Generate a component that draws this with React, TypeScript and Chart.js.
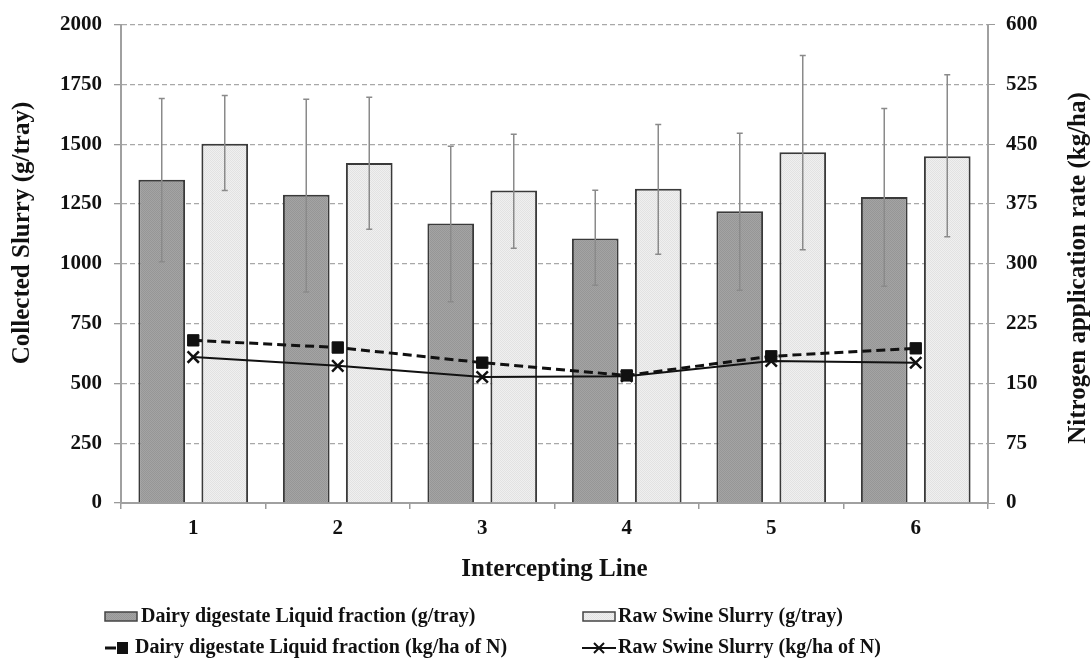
import { useEffect, useRef } from 'react';
import { Chart, registerables } from 'chart.js';

Chart.register(...registerables);

const categories = ['1', '2', '3', '4', '5', '6'];
const dairyTray = [1351, 1289, 1169, 1106, 1220, 1279];
const dairyTrayHigh = [1691, 1688, 1491, 1307, 1546, 1649];
const dairyTrayLow = [1009, 882, 841, 910, 889, 906];
const swineTray = [1502, 1421, 1306, 1314, 1466, 1450];
const swineTrayHigh = [1704, 1696, 1542, 1582, 1871, 1790];
const swineTrayLow = [1306, 1144, 1065, 1040, 1059, 1113];
const dairyN = [204, 195, 176, 160, 184, 194];
const swineN = [183, 172, 158, 159, 178, 176];

const leftTitle = 'Collected Slurry (g/tray)';
const rightTitle = 'Nitrogen application rate (kg/ha)';
const xTitle = 'Intercepting Line';
const legendLabels = [
  'Dairy digestate Liquid fraction (g/tray)',
  'Raw Swine Slurry (g/tray)',
  'Dairy digestate Liquid fraction (kg/ha of N)',
  'Raw Swine Slurry (kg/ha of N)',
];

const SERIF = "'Liberation Serif', 'Times New Roman', serif";

function makePattern(base: string, dot: string) {
  const c = document.createElement('canvas');
  c.width = 2;
  c.height = 2;
  const g = c.getContext('2d')!;
  g.fillStyle = base;
  g.fillRect(0, 0, 2, 2);
  g.fillStyle = dot;
  g.fillRect(0, 0, 1, 1);
  g.fillRect(1, 1, 1, 1);
  return g.createPattern(c, 'repeat')!;
}

export default function App() {
  const ref = useRef<HTMLCanvasElement>(null);

  useEffect(() => {
    const canvas = ref.current!;
    const darkFill = makePattern('#a4a4a4', '#969696');
    const lightFill = makePattern('#f0f0f0', '#e2e2e2');
    const errs = [
      [dairyTrayLow, dairyTrayHigh],
      [swineTrayLow, swineTrayHigh],
    ];

    const errorBars = {
      id: 'errorBars',
      afterDatasetDraw(chart: any, args: any) {
        const e = errs[args.index];
        if (!e) return;
        const ctx = chart.ctx;
        const y = chart.scales.y;
        const meta = chart.getDatasetMeta(args.index);
        ctx.save();
        ctx.strokeStyle = '#8a8a8a';
        ctx.lineWidth = 1.5;
        meta.data.forEach((bar: any, i: number) => {
          const yl = y.getPixelForValue(e[0][i]);
          const yh = y.getPixelForValue(e[1][i]);
          ctx.beginPath();
          ctx.moveTo(bar.x, yl);
          ctx.lineTo(bar.x, yh);
          ctx.moveTo(bar.x - 3, yl);
          ctx.lineTo(bar.x + 3, yl);
          ctx.moveTo(bar.x - 3, yh);
          ctx.lineTo(bar.x + 3, yh);
          ctx.stroke();
        });
        ctx.restore();
      },
    };

    const extras = {
      id: 'extras',
      afterDraw(chart: any) {
        const ctx = chart.ctx;
        ctx.save();
        ctx.fillStyle = '#111';
        ctx.font = `bold 25px ${SERIF}`;
        ctx.textAlign = 'center';
        ctx.textBaseline = 'middle';
        // left title
        ctx.save();
        ctx.translate(23, 233);
        ctx.rotate(-Math.PI / 2);
        ctx.fillText(leftTitle, 0, 0);
        ctx.restore();
        // right title
        ctx.save();
        ctx.translate(1079, 268);
        ctx.rotate(-Math.PI / 2);
        ctx.fillText(rightTitle, 0, 0);
        ctx.restore();

        // legend
        ctx.font = `bold 20px ${SERIF}`;
        ctx.textAlign = 'left';
        ctx.textBaseline = 'middle';
        const r1 = 617;
        const r2 = 648;
        // item 1
        ctx.fillStyle = darkFill;
        ctx.fillRect(105, r1 - 5, 32, 9);
        ctx.strokeStyle = '#444';
        ctx.lineWidth = 1.5;
        ctx.strokeRect(105, r1 - 5, 32, 9);
        ctx.fillStyle = '#111';
        ctx.fillText(legendLabels[0], 141, r1);
        // item 2
        ctx.fillStyle = lightFill;
        ctx.fillRect(583, r1 - 5, 32, 9);
        ctx.strokeRect(583, r1 - 5, 32, 9);
        ctx.fillStyle = '#111';
        ctx.fillText(legendLabels[1], 618, r1);
        // item 3
        ctx.strokeStyle = '#111';
        ctx.lineWidth = 3;
        ctx.beginPath();
        ctx.moveTo(105, r2);
        ctx.lineTo(116, r2);
        ctx.stroke();
        ctx.fillRect(117, r2 - 6, 11, 12);
        ctx.fillText(legendLabels[2], 135, r2);
        // item 4
        ctx.lineWidth = 2;
        ctx.beginPath();
        ctx.moveTo(582, r2);
        ctx.lineTo(616, r2);
        ctx.moveTo(594, r2 - 5);
        ctx.lineTo(604, r2 + 5);
        ctx.moveTo(594, r2 + 5);
        ctx.lineTo(604, r2 - 5);
        ctx.stroke();
        ctx.fillText(legendLabels[3], 618, r2);
        ctx.restore();
      },
    };

    const tickFont = { family: SERIF, weight: 'bold' as const, size: 21 };
    const plain = (v: any) => String(v);

    const chart = new Chart(canvas, {
      type: 'bar',
      data: {
        labels: categories,
        datasets: [
          {
            type: 'bar',
            label: legendLabels[0],
            data: dairyTray,
            backgroundColor: darkFill as any,
            borderColor: '#3a3a3a',
            borderWidth: 2,
            yAxisID: 'y',
            order: 2,
            categoryPercentage: 0.872,
            barPercentage: 0.741,
          },
          {
            type: 'bar',
            label: legendLabels[1],
            data: swineTray,
            backgroundColor: lightFill as any,
            borderColor: '#3a3a3a',
            borderWidth: 2,
            yAxisID: 'y',
            order: 2,
            categoryPercentage: 0.872,
            barPercentage: 0.741,
          },
          {
            type: 'line',
            label: legendLabels[2],
            data: dairyN,
            yAxisID: 'y1',
            borderColor: '#111',
            borderWidth: 3,
            borderDash: [9, 5],
            pointStyle: 'rect',
            pointRadius: 8,
            pointBackgroundColor: '#111',
            pointBorderColor: '#111',
            pointBorderWidth: 1,
            order: 1,
          },
          {
            type: 'line',
            label: legendLabels[3],
            data: swineN,
            yAxisID: 'y1',
            borderColor: '#111',
            borderWidth: 2,
            pointStyle: 'crossRot',
            pointRadius: 8,
            pointBorderColor: '#111',
            pointBorderWidth: 2.5,
            order: 0,
          },
        ],
      },
      options: {
        responsive: false,
        animation: false,
        layout: { padding: { top: 24, left: 0, right: 0, bottom: 79 } },
        plugins: {
          legend: { display: false },
          tooltip: { enabled: false },
        },
        scales: {
          x: {
            type: 'category',
            offset: true,
            grid: {
              display: true,
              offset: true,
              drawOnChartArea: false,
              drawTicks: true,
              tickLength: 6,
              color: '#9a9a9a',
              lineWidth: 1.5,
            },
            border: { display: true, color: '#a0a0a0', width: 2 },
            ticks: { font: tickFont, color: '#111', padding: 7 },
            title: {
              display: true,
              text: xTitle,
              color: '#111',
              font: { family: SERIF, weight: 'bold', size: 25 },
              padding: 0,
            },
            afterFit: (s: any) => {
              s.height = 82;
            },
          },
          y: {
            position: 'left',
            min: 0,
            max: 2000,
            ticks: { stepSize: 250, font: tickFont, color: '#111', padding: 12, callback: plain },
            grid: {
              color: '#a8a8a8',
              lineWidth: 1.3,
              tickLength: 7,
              tickColor: '#9a9a9a',
            },
            border: { display: true, color: '#a0a0a0', width: 2, dash: [5, 3] },
            afterFit: (s: any) => {
              s.width = 121;
            },
          },
          y1: {
            position: 'right',
            min: 0,
            max: 600,
            ticks: { stepSize: 75, font: tickFont, color: '#111', padding: 11, callback: plain },
            grid: {
              drawOnChartArea: false,
              tickLength: 7,
              color: '#9a9a9a',
            },
            border: { display: true, color: '#a0a0a0', width: 2 },
            afterFit: (s: any) => {
              s.width = 104;
            },
          },
        },
      },
      plugins: [errorBars, extras],
    });
    return () => chart.destroy();
  }, []);

  return (
    <div style={{ position: 'fixed', left: 0, top: 0, width: 1092, height: 664, background: '#fff' }}>
      <canvas ref={ref} width={1092} height={664} />
    </div>
  );
}
